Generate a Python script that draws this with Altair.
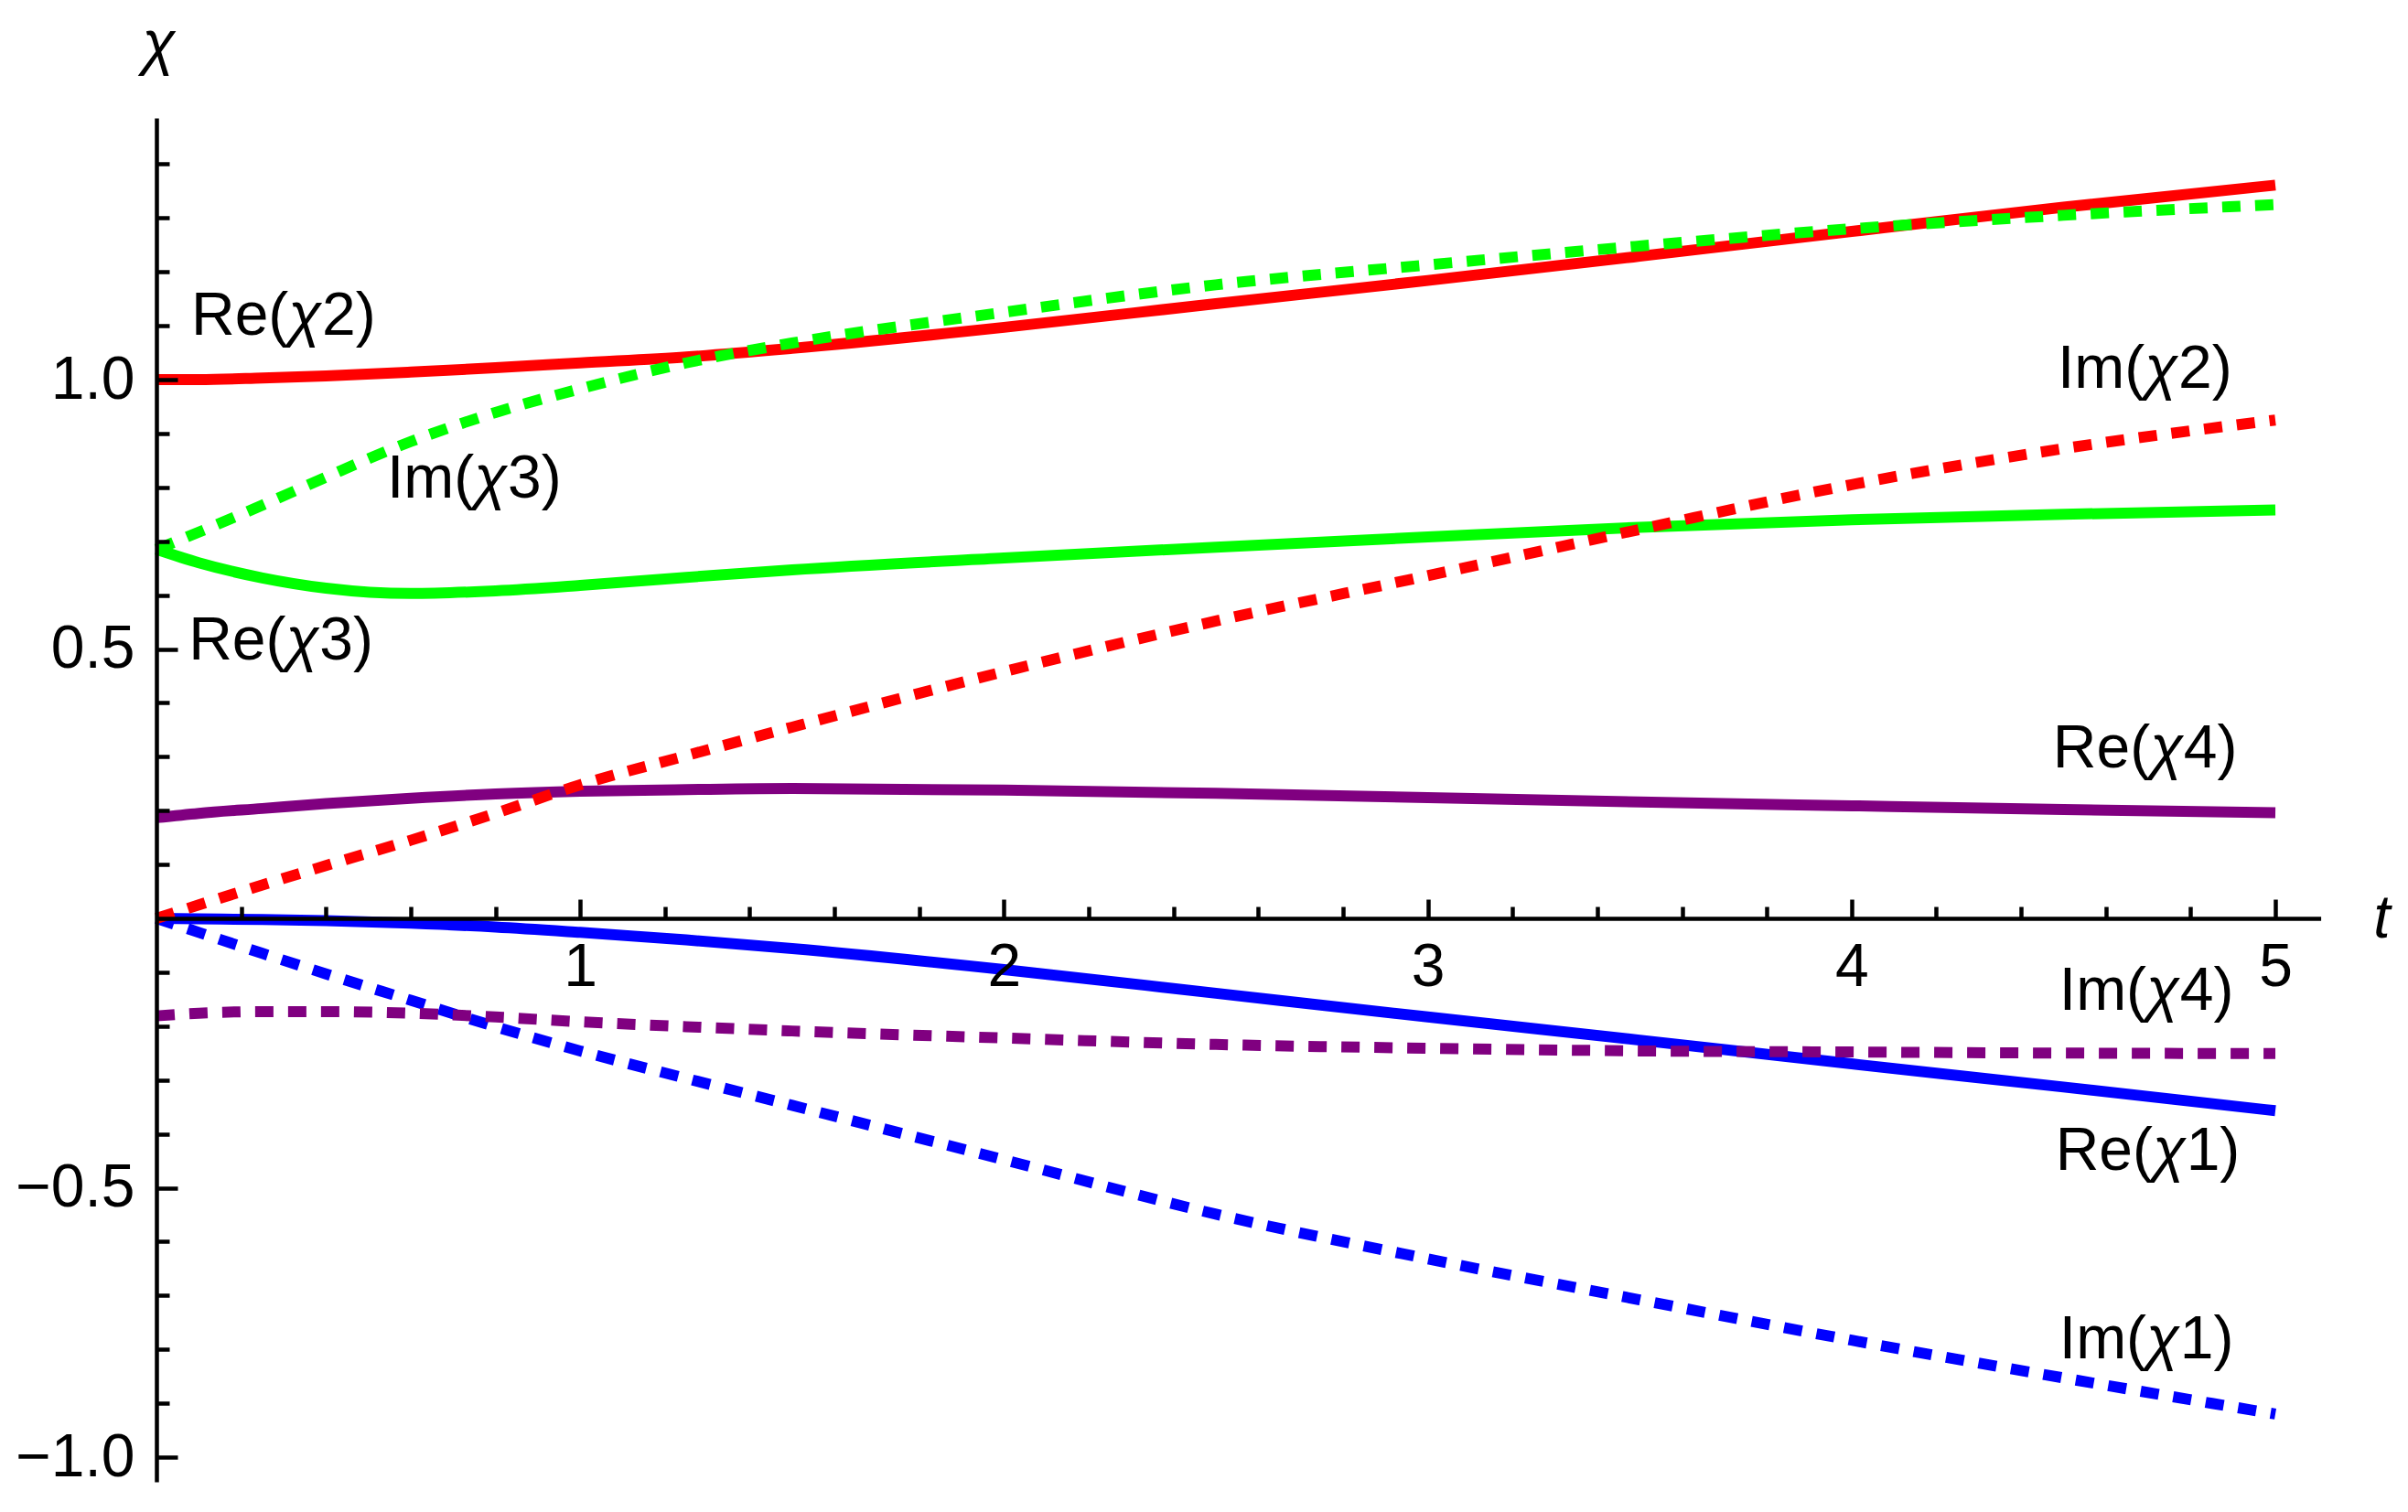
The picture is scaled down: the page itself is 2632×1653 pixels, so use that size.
import altair as alt
import pandas as pd

FONT = "Liberation Sans"

# ---- data ----
T = [0, 0.1, 0.25, 0.4, 0.6, 0.8, 1, 1.25, 1.5, 2, 2.5, 3, 3.5, 4, 4.5, 5]

re_chi1 = [0, -0.001, -0.002, -0.004, -0.009, -0.016, -0.026, -0.04, -0.056, -0.095, -0.139, -0.183, -0.226, -0.27, -0.313, -0.357]
im_chi1 = [0, -0.026, -0.065, -0.103, -0.152, -0.201, -0.246, -0.297, -0.347, -0.448, -0.549, -0.632, -0.708, -0.783, -0.853, -0.92]
re_chi2 = [1.0, 1.0, 1.003, 1.007, 1.014, 1.022, 1.031, 1.042, 1.058, 1.097, 1.141, 1.184, 1.229, 1.275, 1.32, 1.361]
im_chi2 = [0, 0.025, 0.062, 0.098, 0.145, 0.195, 0.248, 0.302, 0.355, 0.458, 0.552, 0.636, 0.722, 0.805, 0.872, 0.925]
re_chi3 = [0.685, 0.66, 0.632, 0.613, 0.603, 0.608, 0.618, 0.633, 0.647, 0.669, 0.689, 0.708, 0.726, 0.74, 0.75, 0.758]
im_chi3 = [0.685, 0.717, 0.767, 0.819, 0.885, 0.939, 0.983, 1.031, 1.068, 1.125, 1.176, 1.213, 1.248, 1.28, 1.305, 1.325]
re_chi4 = [0.187, 0.195, 0.204, 0.213, 0.223, 0.231, 0.236, 0.239, 0.241, 0.238, 0.232, 0.224, 0.216, 0.209, 0.202, 0.196]
im_chi4 = [-0.181, -0.176, -0.173, -0.173, -0.176, -0.183, -0.192, -0.201, -0.209, -0.222, -0.234, -0.241, -0.246, -0.248, -0.25, -0.251]

series = ["χ1", "χ2", "χ3", "χ4"]
colors = ["#0000ff", "#ff0000", "#00ff00", "#800080"]

# curve labels: prefix, italic symbol, suffix, anchor (t, baseline value)
label_kind = ["Re", "Im", "Re", "Im", "Re", "Im", "Re", "Im"]
label_sym = ["χ", "χ", "χ", "χ", "χ", "χ", "χ", "χ"]
label_suffix = ["2)", "3)", "3)", "2)", "4)", "4)", "1)", "1)"]
label_t = [0.082, 0.544, 0.076, 4.486, 4.475, 4.490, 4.481, 4.490]
label_y = [1.084, 0.781, 0.480, 0.984, 0.281, -0.169, -0.467, -0.817]

x_major = [1, 2, 3, 4, 5]
y_major = [-1.0, -0.5, 0.5, 1.0]
x_ticks = [round(0.2 * i, 1) for i in range(1, 26)]
y_ticks = [round(0.1 * i, 1) for i in range(-10, 15) if i != 0]

# ---- layout ----
FS = 66
xdom = [0, 5.107]
ydom = [-1.0458, 1.4856]
W = 2365.6
H = 1491.0
off_bottom = -(0 - ydom[0]) / (ydom[1] - ydom[0]) * H
off_top = -(ydom[1] - 0) / (ydom[1] - ydom[0]) * H

rows = []
for name, rv, iv in zip(series, [re_chi1, re_chi2, re_chi3, re_chi4], [im_chi1, im_chi2, im_chi3, im_chi4]):
    for t, v in zip(T, rv):
        rows.append({"t": t, "v": v, "s": name, "part": "Re"})
    for t, v in zip(T, iv):
        rows.append({"t": t, "v": v, "s": name, "part": "Im"})
df = pd.DataFrame(rows)
lab_df = pd.DataFrame({
    "kind": label_kind, "prefix": [k + "(" for k in label_kind], "sym": label_sym,
    "suffix": label_suffix, "t": label_t, "y": label_y,
})

xscale = alt.Scale(domain=xdom, nice=False, zero=False)
yscale = alt.Scale(domain=ydom, nice=False, zero=False)
color = alt.Color("s:N", scale=alt.Scale(domain=series, range=colors), legend=None)

tick_x_axis = alt.Axis(
    orient="top", offset=off_top, values=x_ticks, labels=False, domain=False, grid=False,
    ticks=True, tickColor="black", tickWidth=4.5, tickCap="butt",
    tickSize={"condition": {"test": "abs(datum.value - round(datum.value)) < 0.001", "value": 21}, "value": 13},
    title=None, zindex=1,
)
tick_y_axis = alt.Axis(
    orient="right", offset=-W, values=y_ticks, labels=False, domain=False, grid=False,
    ticks=True, tickColor="black", tickWidth=4.5, tickCap="butt",
    tickSize={"condition": {"test": "abs(datum.value * 2 - round(datum.value * 2)) < 0.001", "value": 23}, "value": 14},
    title=None, zindex=1,
)
label_x_axis = alt.Axis(
    orient="bottom", offset=off_bottom, values=x_major, format="d",
    labelFont=FONT, labelFontSize=FS, labelColor="black", labelPadding=21,
    labelFlush=False, labelOverlap=False,
    ticks=False, tickSize=0, domain=True, domainColor="black", domainWidth=4.5, grid=False,
    title="t", titleFont=FONT, titleFontSize=FS, titleFontStyle="italic", titleFontWeight="normal",
    titleColor="black", titleX=2432, titleY=20, titleAlign="center", titleBaseline="alphabetic",
    zindex=1,
)
label_y_axis = alt.Axis(
    orient="left", values=y_major, format=".1f",
    labelFont=FONT, labelFontSize=FS, labelColor="black", labelPadding=24,
    labelFlush=False, labelOverlap=False,
    ticks=False, tickSize=0, domain=True, domainColor="black", domainWidth=4.5, grid=False,
    title="χ", titleFont=FONT, titleFontSize=FS, titleFontStyle="italic", titleFontWeight="normal",
    titleColor="black", titleAngle=0, titleX=2, titleY=-61, titleAlign="center",
    titleBaseline="alphabetic", zindex=1,
)

solid = alt.Chart(df).transform_filter("datum.part == 'Re'").mark_line(
    strokeWidth=12, interpolate="monotone", strokeCap="butt"
).encode(
    x=alt.X("t:Q", scale=xscale, axis=tick_x_axis),
    y=alt.Y("v:Q", scale=yscale, axis=tick_y_axis),
    color=color,
)

dashed = alt.Chart(df).transform_filter("datum.part == 'Im'").mark_line(
    strokeWidth=12, interpolate="monotone", strokeCap="butt", strokeDash=[20, 16]
).encode(
    x=alt.X("t:Q", scale=xscale, axis=label_x_axis),
    y=alt.Y("v:Q", scale=yscale, axis=label_y_axis),
    color=color,
)

# text widths (Liberation Sans advances) used only as label offsets
prefix_w = {"Re": 1.611 * FS, "Im": 1.444 * FS}
chi_w = 0.556 * FS

text_layers = []
for kind in ["Re", "Im"]:
    base = alt.Chart(lab_df).transform_filter(f"datum.kind == '{kind}'").encode(
        x=alt.X("t:Q", scale=xscale, axis=None),
        y=alt.Y("y:Q", scale=yscale, axis=None),
    )
    common = dict(align="left", baseline="alphabetic", font=FONT, fontSize=FS, color="black")
    text_layers.append(base.mark_text(**common).encode(text="prefix:N"))
    text_layers.append(base.mark_text(dx=prefix_w[kind], fontStyle="italic", **common).encode(text="sym:N"))
    text_layers.append(base.mark_text(dx=prefix_w[kind] + chi_w, **common).encode(text="suffix:N"))

chart = alt.layer(solid, dashed, *text_layers).resolve_axis(
    x="independent", y="independent"
).properties(
    width=W, height=H,
    autosize=alt.AutoSizeParams(type="none"),
    padding={"left": 163, "top": 121, "right": 80, "bottom": 15},
    background="white",
).configure_view(stroke=None)

chart.save("out.html", embed_options={"renderer": "svg", "actions": False})
